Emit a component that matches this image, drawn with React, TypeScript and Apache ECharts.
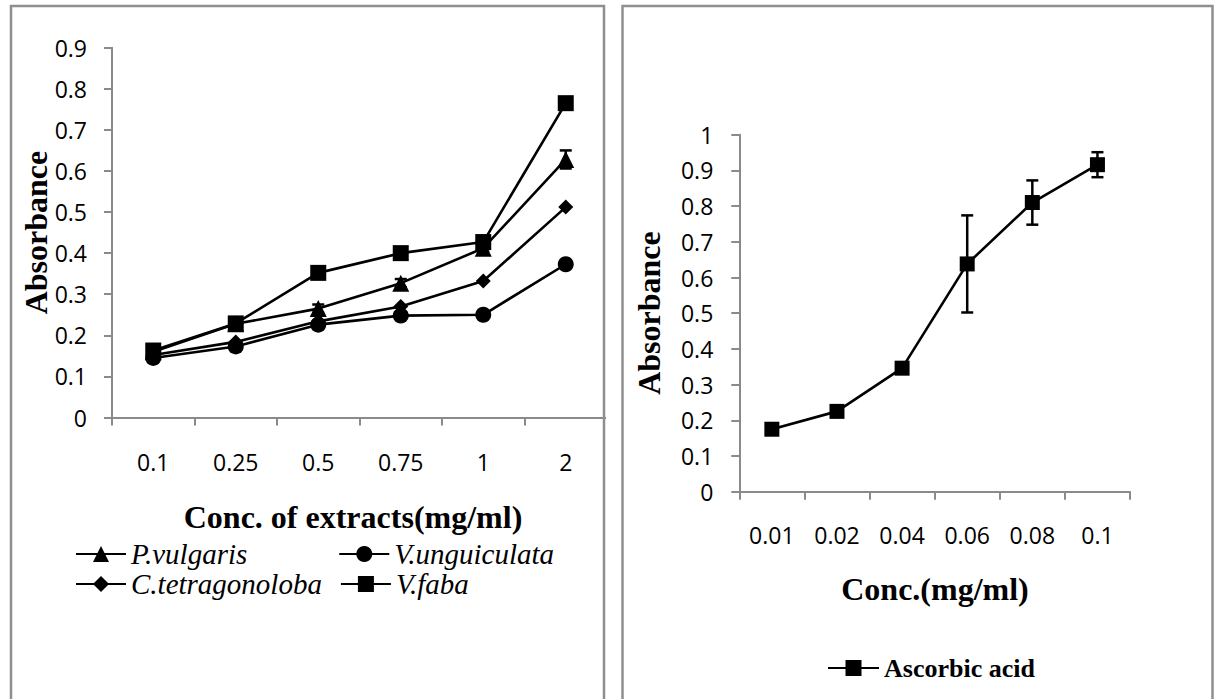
import React, { useEffect, useRef } from "react";
import * as echarts from "echarts";

// ---------- Data ----------
const leftCategories = ["0.1", "0.25", "0.5", "0.75", "1", "2"];
const pVulgaris = [0.16, 0.228, 0.265, 0.327, 0.412, 0.628];
const pVulgarisErr = [0.005, 0.005, 0.01, 0.01, 0.008, 0.022];
const vUnguiculata = [0.145, 0.173, 0.226, 0.248, 0.25, 0.373];
const cTetragonoloba = [0.152, 0.184, 0.234, 0.27, 0.332, 0.512];
const vFaba = [0.163, 0.229, 0.352, 0.4, 0.427, 0.765];

const rightCategories = ["0.01", "0.02", "0.04", "0.06", "0.08", "0.1"];
const ascorbicAcid = [0.175, 0.225, 0.346, 0.638, 0.81, 0.916];
const ascorbicErr = [0.008, 0.01, 0.008, 0.136, 0.062, 0.035];

const leftYTicks = { min: 0, max: 0.9, interval: 0.1 };
const rightYTicks = { min: 0, max: 1, interval: 0.1 };

// ---------- Styles ----------
const AXIS_GREY = "#8a8a8a";
const TICK_FONT = "Open Sans";
const SERIF = "Liberation Serif";

const errorRender = (params: any, api: any) => {
  const x = api.value(0);
  const pLo = api.coord([x, api.value(1)]);
  const pHi = api.coord([x, api.value(2)]);
  const cap = 6;
  const style = { stroke: "#000", lineWidth: 2.5 };
  return {
    type: "group",
    children: [
      { type: "line", shape: { x1: pLo[0], y1: pLo[1], x2: pHi[0], y2: pHi[1] }, style },
      { type: "line", shape: { x1: pLo[0] - cap, y1: pLo[1], x2: pLo[0] + cap, y2: pLo[1] }, style },
      { type: "line", shape: { x1: pHi[0] - cap, y1: pHi[1], x2: pHi[0] + cap, y2: pHi[1] }, style },
    ],
  };
};

const errData = (vals: number[], errs: number[]) =>
  vals.map((v, i) => [i, v - errs[i], v + errs[i]]);

const lineSeries = (name: string, data: number[], symbol: string, size: number, axisIdx: number) => ({
  name,
  type: "line",
  xAxisIndex: axisIdx,
  yAxisIndex: axisIdx,
  data,
  symbol,
  symbolSize: size,
  z: 3,
  lineStyle: { color: "#000", width: 2.6 },
  itemStyle: { color: "#000", borderColor: "#000", borderWidth: 0 },
});

const xAxisCommon = {
  type: "category",
  boundaryGap: true,
  axisLine: { show: true, lineStyle: { color: AXIS_GREY, width: 2 } },
  axisTick: { show: true, length: 8, inside: false, lineStyle: { color: AXIS_GREY, width: 2 } },
  axisLabel: { color: "#000", fontFamily: TICK_FONT, fontSize: 23, margin: 33 },
  splitLine: { show: false },
};

const yAxisCommon = {
  type: "value",
  axisLine: { show: true, lineStyle: { color: AXIS_GREY, width: 2 } },
  axisTick: { show: true, length: 8, inside: false, lineStyle: { color: AXIS_GREY, width: 2 } },
  axisLabel: { color: "#000", fontFamily: TICK_FONT, fontSize: 23, margin: 25 },
  splitLine: { show: false },
};

const legendItalic = { fontFamily: SERIF, fontStyle: "italic", fontSize: 29, lineHeight: 29, color: "#000" };

export default function App() {
  const ref = useRef<HTMLDivElement>(null);

  useEffect(() => {
    if (!ref.current) return;
    const chart = echarts.init(ref.current, null, { renderer: "svg" });

    const option: any = {
      animation: false,
      backgroundColor: "#fff",
      grid: [
        { left: 112, top: 47.7, width: 495, height: 369.8 },
        { left: 739.3, top: 134.7, width: 390.7, height: 357 },
      ],
      xAxis: [
        { ...xAxisCommon, gridIndex: 0, data: leftCategories },
        { ...xAxisCommon, gridIndex: 1, data: rightCategories, axisLabel: { ...xAxisCommon.axisLabel, margin: 32 } },
      ],
      yAxis: [
        { ...yAxisCommon, gridIndex: 0, ...leftYTicks },
        { ...yAxisCommon, gridIndex: 1, ...rightYTicks, axisLabel: { ...yAxisCommon.axisLabel, margin: 26 } },
      ],
      legend: [
        {
          data: ["P.vulgaris", "V.unguiculata"],
          left: 75,
          top: 539.5,
          padding: 0,
          itemWidth: 50,
          itemHeight: 20,
          itemGap: 91,
          selectedMode: false,
          textStyle: legendItalic,
        },
        {
          data: ["C.tetragonoloba", "V.faba"],
          left: 75,
          top: 569.5,
          padding: 0,
          itemWidth: 50,
          itemHeight: 20,
          itemGap: 18,
          selectedMode: false,
          textStyle: legendItalic,
        },
        {
          data: ["Ascorbic acid"],
          left: 827,
          top: 655,
          padding: 0,
          itemWidth: 51,
          itemHeight: 20,
          selectedMode: false,
          textStyle: { fontFamily: SERIF, fontWeight: "bold", fontSize: 26, lineHeight: 26, color: "#000" },
        },
      ],
      series: [
        {
          name: "P.vulgaris error",
          type: "custom",
          xAxisIndex: 0,
          yAxisIndex: 0,
          z: 2,
          renderItem: errorRender,
          encode: { x: 0, y: [1, 2] },
          data: errData(pVulgaris, pVulgarisErr),
        },
        lineSeries("P.vulgaris", pVulgaris, "triangle", 17, 0),
        lineSeries("V.unguiculata", vUnguiculata, "circle", 16, 0),
        lineSeries("C.tetragonoloba", cTetragonoloba, "diamond", 15, 0),
        lineSeries("V.faba", vFaba, "rect", 16, 0),
        {
          name: "Ascorbic acid error",
          type: "custom",
          xAxisIndex: 1,
          yAxisIndex: 1,
          z: 2,
          renderItem: errorRender,
          encode: { x: 0, y: [1, 2] },
          data: errData(ascorbicAcid, ascorbicErr),
        },
        lineSeries("Ascorbic acid", ascorbicAcid, "rect", 15, 1),
      ],
      graphic: [
        { type: "rect", z: 100, shape: { x: 606, y: 0, width: 15, height: 699 }, style: { fill: "#fff" } },
        {
          type: "rect",
          z: 101,
          shape: { x: 11, y: 6, width: 593, height: 720 },
          style: { fill: "none", stroke: "#8f8f8f", lineWidth: 2.5 },
        },
        {
          type: "rect",
          z: 101,
          shape: { x: 622.5, y: 6, width: 590, height: 720 },
          style: { fill: "none", stroke: "#8f8f8f", lineWidth: 2.5 },
        },
        {
          type: "text",
          z: 50,
          x: 35.5,
          y: 232.5,
          rotation: Math.PI / 2,
          style: {
            text: "Absorbance",
            fill: "#000",
            font: `bold 32px "${SERIF}"`,
            textAlign: "center",
            textVerticalAlign: "middle",
          },
        },
        {
          type: "text",
          z: 50,
          x: 353,
          y: 517,
          style: {
            text: "Conc. of extracts(mg/ml)",
            fill: "#000",
            font: `bold 32px "${SERIF}"`,
            textAlign: "center",
            textVerticalAlign: "middle",
          },
        },
        {
          type: "text",
          z: 50,
          x: 649,
          y: 313,
          rotation: Math.PI / 2,
          style: {
            text: "Absorbance",
            fill: "#000",
            font: `bold 32px "${SERIF}"`,
            textAlign: "center",
            textVerticalAlign: "middle",
          },
        },
        {
          type: "text",
          z: 50,
          x: 935,
          y: 589,
          style: {
            text: "Conc.(mg/ml)",
            fill: "#000",
            font: `bold 32px "${SERIF}"`,
            textAlign: "center",
            textVerticalAlign: "middle",
          },
        },
      ],
    };

    chart.setOption(option);
    return () => chart.dispose();
  }, []);

  return (
    <div
      ref={ref}
      style={{ position: "absolute", left: 0, top: 0, width: 1218, height: 699, background: "#fff" }}
    />
  );
}
